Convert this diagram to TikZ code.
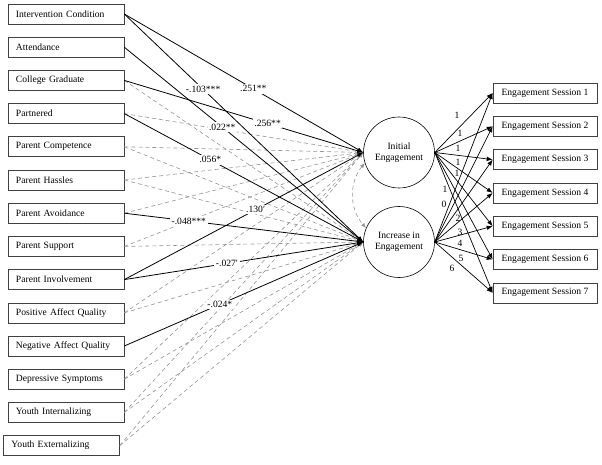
\documentclass[tikz,border=0pt]{standalone}
\usepackage{fontspec}
\setmainfont{Liberation Serif}
\usetikzlibrary{arrows.meta}
\begin{document}
\begin{tikzpicture}[x=1pt,y=1pt,
  txt/.style={font=\fontsize{9.6}{11}\selectfont},
  lbox/.style={txt, draw=black!75, line width=0.6pt, text width=100pt, align=left, inner xsep=8pt, minimum height=20pt},
  rbox/.style={txt, draw=black!75, line width=0.6pt, minimum width=104pt, minimum height=20pt, inner xsep=4pt},
  latent/.style={txt, draw=black, line width=0.6pt, circle, minimum size=71pt, align=center, inner sep=1pt},
  sig/.style={draw=black, line width=0.8pt, -{Latex[length=6pt,width=4.5pt]}},
  ns/.style={draw=black!42, line width=0.6pt, dash pattern=on 4pt off 3pt, -{Latex[length=5pt,width=4pt]}},
  cov/.style={draw=black!42, line width=0.6pt, dash pattern=on 4pt off 3pt, {Latex[length=5pt,width=4pt]}-{Latex[length=5pt,width=4pt]}},
  load/.style={draw=black, line width=0.7pt, -{Latex[length=6pt,width=4.5pt]}},
  coef/.style={txt, fill=white, inner sep=1.5pt},
  num/.style={txt, inner sep=0pt}]
\useasboundingbox (0,0) rectangle (602,464);

% predictors
\node[lbox] (L1)  at (66,450)   {Intervention Condition};
\node[lbox] (L2)  at (66,416.8) {Attendance};
\node[lbox] (L3)  at (66,383.6) {College Graduate};
\node[lbox] (L4)  at (66,350.4) {Partnered};
\node[lbox] (L5)  at (66,317.2) {Parent Competence};
\node[lbox] (L6)  at (66,284)   {Parent Hassles};
\node[lbox] (L7)  at (66,250.8) {Parent Avoidance};
\node[lbox] (L8)  at (66,217.6) {Parent Support};
\node[lbox] (L9)  at (66,184.4) {Parent Involvement};
\node[lbox] (L10) at (66,151.2) {Positive Affect Quality};
\node[lbox] (L11) at (66,118)   {Negative Affect Quality};
\node[lbox] (L12) at (66,84.8)  {Depressive Symptoms};
\node[lbox] (L13) at (66,51.6)  {Youth Internalizing};
\node[lbox] (L14) at (61.5,18.4){Youth Externalizing};

% latent factors
\node[latent] (ini) at (399,311.5) {Initial\\Engagement};
\node[latent] (inc) at (399,222)   {Increase in\\Engagement};

% indicators
\node[rbox] (S1) at (545,371)   {Engagement Session 1};
\node[rbox] (S2) at (545,337.7) {Engagement Session 2};
\node[rbox] (S3) at (545,304.4) {Engagement Session 3};
\node[rbox] (S4) at (545,271.1) {Engagement Session 4};
\node[rbox] (S5) at (545,237.8) {Engagement Session 5};
\node[rbox] (S6) at (545,204.5) {Engagement Session 6};
\node[rbox] (S7) at (545,171.2) {Engagement Session 7};

% non-significant paths
\foreach \a in {L4,L5,L6,L7,L8,L10,L12,L13,L14} \draw[ns] (\a.east) -- (ini.west);
\foreach \a in {L3,L5,L6,L8,L10,L12,L13,L14} \draw[ns] (\a.east) -- (inc.west);

% covariance
\draw[cov] (ini.197) to[bend right=40] (inc.157);

% significant paths
\draw[sig] (L1.east) -- node[coef, pos=0.54] {.251**} (ini.west);
\draw[sig] (L1.east) -- node[coef, pos=0.33] {-.103***} (inc.west);
\draw[sig] (L2.east) -- node[coef, pos=0.41] {.022**} (inc.west);
\draw[sig] (L3.east) -- node[coef, pos=0.60] {.256**} (ini.west);
\draw[sig] (L4.east) -- node[coef, pos=0.36] {.056*} (inc.west);
\draw[sig] (L7.east) -- node[coef, pos=0.27] {-.048***} (inc.west);
\draw[sig] (L9.east) -- node[coef, pos=0.55] {.130′} (ini.west);
\draw[sig] (L9.east) -- node[coef, pos=0.43] {-.027′} (inc.west);
\draw[sig] (L11.east) -- node[coef, pos=0.40] {-.024*} (inc.west);

% loadings
\foreach \s in {S1,S2,S3,S4,S5,S6,S7} {
  \draw[load] (ini.east) -- (\s.west);
  \draw[load] (inc.east) -- (\s.west);
}

% loading labels
\node[num] (n1) at (457,349) {1};
\node[num] (n2) at (460,331) {1};
\node[num] (n3) at (458,316) {1};
\node[num] (n4) at (458,302) {1};
\node[num] (n5) at (457,291) {1};
\node[num] (n6) at (445,275) {1};
\node[num] (n7) at (444,260) {0};
\node[num] (n8) at (458,246) {2};
\node[num] (n9) at (460,232) {3};
\node[num] (n10) at (460,221) {4};
\node[num] (n11) at (461,206) {5};
\node[num] (n12) at (452,196) {6};
\end{tikzpicture}
\end{document}
